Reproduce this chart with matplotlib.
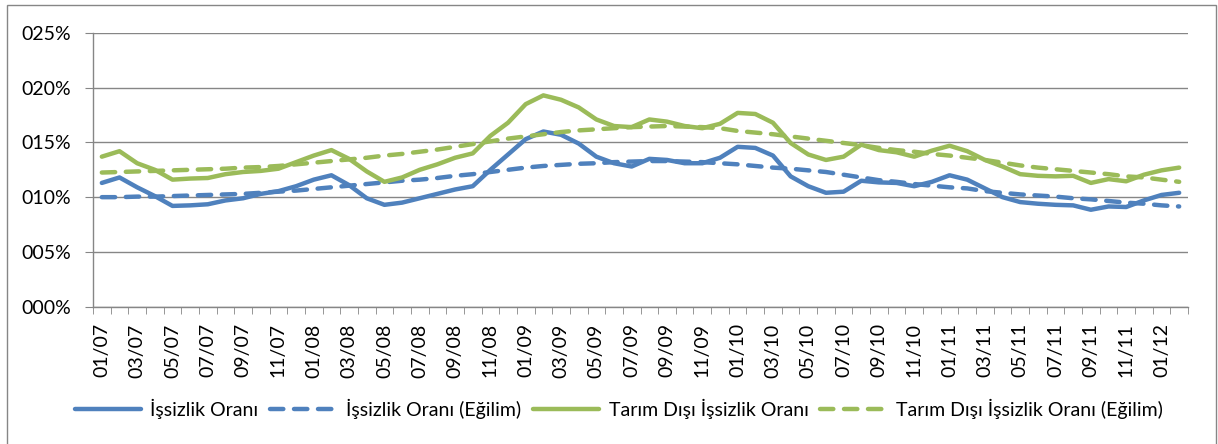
import matplotlib.pyplot as plt
from matplotlib.patches import Rectangle

plt.rcParams['font.family'] = ['Lato', 'DejaVu Sans']

# aylar 01/07 - 02/12
aylar = [f"{m:02d}/{y:02d}" for y in range(7, 13) for m in range(1, 13)][:62]

issizlik = [11.3, 11.8, 10.9, 10.1, 9.2, 9.25, 9.35, 9.7, 9.9, 10.3,
            10.55, 11.0, 11.6, 12.0, 11.1, 9.9, 9.3, 9.5, 9.9, 10.3,
            10.7, 11.0, 12.5, 13.9, 15.3, 16.0, 15.7, 14.9, 13.7, 13.1,
            12.8, 13.5, 13.4, 13.1, 13.1, 13.6, 14.6, 14.5, 13.8, 11.9,
            11.0, 10.4, 10.5, 11.5, 11.35, 11.3, 11.0, 11.4, 12.0, 11.6,
            10.8, 10.0, 9.55, 9.4, 9.3, 9.25, 8.85, 9.15, 9.1, 9.7,
            10.2, 10.4]

issizlik_egilim = [10.0, 10.0, 10.05, 10.05, 10.1, 10.15, 10.2, 10.25, 10.3, 10.4,
                   10.5, 10.6, 10.75, 10.9, 11.05, 11.2, 11.35, 11.5, 11.6, 11.75,
                   11.95, 12.1, 12.3, 12.5, 12.7, 12.85, 12.95, 13.05, 13.1, 13.2,
                   13.25, 13.3, 13.3, 13.25, 13.2, 13.1, 13.0, 12.85, 12.7, 12.6,
                   12.45, 12.3, 12.05, 11.8, 11.55, 11.4, 11.2, 11.05, 10.9, 10.8,
                   10.55, 10.4, 10.25, 10.15, 10.05, 9.9, 9.8, 9.65, 9.5, 9.4,
                   9.25, 9.15]

tarim_disi = [13.7, 14.2, 13.1, 12.5, 11.6, 11.7, 11.75, 12.1, 12.3, 12.4,
              12.6, 13.2, 13.8, 14.3, 13.5, 12.35, 11.4, 11.8, 12.5, 13.0,
              13.6, 14.0, 15.6, 16.8, 18.5, 19.3, 18.9, 18.2, 17.1, 16.5,
              16.4, 17.1, 16.9, 16.5, 16.3, 16.7, 17.7, 17.6, 16.8, 14.95,
              13.9, 13.4, 13.7, 14.8, 14.3, 14.1, 13.7, 14.25, 14.7, 14.2,
              13.4, 12.8, 12.1, 11.95, 11.9, 11.95, 11.3, 11.65, 11.45, 12.05,
              12.45, 12.7]

tarim_disi_egilim = [12.25, 12.3, 12.35, 12.4, 12.45, 12.5, 12.55, 12.6, 12.7, 12.75,
                     12.85, 13.0, 13.15, 13.3, 13.45, 13.6, 13.8, 13.95, 14.15, 14.35,
                     14.6, 14.85, 15.1, 15.35, 15.55, 15.75, 15.95, 16.1, 16.2, 16.3,
                     16.4, 16.45, 16.5, 16.45, 16.4, 16.3, 16.05, 15.9, 15.75, 15.55,
                     15.35, 15.15, 14.95, 14.75, 14.5, 14.3, 14.15, 13.95, 13.8, 13.6,
                     13.4, 13.15, 12.9, 12.7, 12.55, 12.4, 12.25, 12.1, 11.9, 11.8,
                     11.6, 11.4]

mavi = '#4F81BD'
yesil = '#9BBB59'
gri = '#868686'

fig = plt.figure(figsize=(12.18, 4.44), dpi=100)
ax = fig.add_axes([93/1218, 1-306.6/444, 1095/1218, 273.6/444])

x = list(range(len(aylar)))
lw = 3.2
dash = (3.0, 2.4)
ax.plot(x, issizlik, color=mavi, lw=lw, solid_capstyle='round', label='İşsizlik Oranı')
ax.plot(x, issizlik_egilim, color=mavi, lw=lw, dashes=dash, dash_capstyle='round',
        label='İşsizlik Oranı (Eğilim)')
ax.plot(x, tarim_disi, color=yesil, lw=lw, solid_capstyle='round', label='Tarım Dışı İşsizlik Oranı')
ax.plot(x, tarim_disi_egilim, color=yesil, lw=lw, dashes=dash, dash_capstyle='round',
        label='Tarım Dışı İşsizlik Oranı (Eğilim)')

ax.set_xlim(-0.5, len(aylar) - 0.5)
ax.set_ylim(0, 25)
ax.set_yticks(range(0, 26, 5))
ax.set_yticklabels([f"{v:03d}%" for v in range(0, 26, 5)])
ax.grid(axis='y', color=gri, lw=1)
ax.set_axisbelow(True)

ax.set_xticks(x[::2])
ax.set_xticklabels(aylar[::2], rotation=90)
ax.set_xticks([i - 0.5 for i in range(len(aylar) + 1)], minor=True)
ax.tick_params(axis='x', which='major', length=0, pad=12, labelsize=14)
ax.tick_params(axis='x', which='minor', length=5, color=gri, direction='out')
ax.tick_params(axis='y', length=6, color=gri, pad=10, labelsize=14)

for s in ['top', 'right']:
    ax.spines[s].set_visible(False)
for s in ['left', 'bottom']:
    ax.spines[s].set_color(gri)
    ax.spines[s].set_linewidth(1)

fig.legend(loc='center', bbox_to_anchor=(0.508, 1-409/444), ncol=4, frameon=False,
           fontsize=14, handlelength=3.4, handletextpad=0.5, columnspacing=0.6)

# grafik alani cercevesi
fig.patches.append(Rectangle((7/1218, -0.05), 1209/1218, 1.05 - 5/444,
                             transform=fig.transFigure, fill=False, edgecolor=gri, lw=1))

fig.savefig('out.png', dpi=100)
